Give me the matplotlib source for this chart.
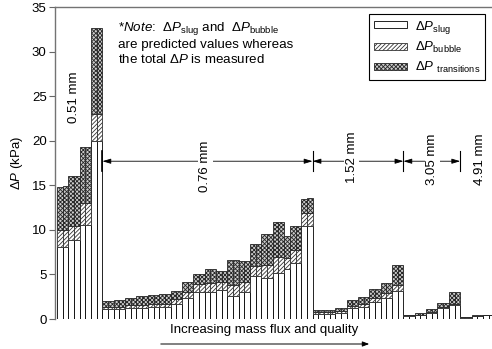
import numpy as np
import matplotlib
matplotlib.use("Agg")
import matplotlib.pyplot as plt
from matplotlib.patches import Patch, FancyArrowPatch

plt.rcParams["font.family"] = ["Liberation Sans", "DejaVu Sans"]
plt.rcParams["mathtext.fontset"] = "custom"
plt.rcParams["mathtext.rm"] = "Liberation Sans"
plt.rcParams["mathtext.it"] = "Liberation Sans:italic"
plt.rcParams["hatch.linewidth"] = 0.6

# Bar values (kPa), one entry per bar, by channel diameter
d051_total = [14.8, 14.9, 16.0, 16.0, 19.3, 19.3, 32.6, 32.7]
d051_slug = [8.1, 8.1, 8.9, 8.9, 10.6, 10.6, 20.0, 20.0]
d051_bubble = [1.9, 1.9, 1.5, 1.5, 2.4, 2.4, 3.0, 3.0]

d076_total = [2.0, 2.0, 2.1, 2.1, 2.4, 2.4, 2.6, 2.6, 2.7, 2.7, 2.8, 2.8, 3.1, 3.1,
              4.1, 4.1, 5.0, 5.0, 5.6, 5.6, 5.4, 5.4, 6.6, 6.6, 6.5, 6.5, 8.4, 8.4,
              9.5, 9.5, 10.9, 10.9, 9.3, 10.4, 10.4, 13.5, 13.6]
d076_slug = [1.1, 1.1, 1.1, 1.1, 1.2, 1.2, 1.2, 1.2, 1.3, 1.3, 1.3, 1.3, 1.7, 1.7,
             2.4, 2.4, 3.0, 3.0, 3.0, 3.0, 3.2, 3.2, 2.6, 2.6, 3.0, 3.0, 4.8, 4.8,
             4.6, 4.6, 5.2, 5.2, 5.6, 6.3, 6.3, 10.4, 10.4]
d076_bubble = [0.3, 0.3, 0.3, 0.3, 0.4, 0.4, 0.4, 0.4, 0.4, 0.4, 0.4, 0.4, 0.5, 0.5,
               0.6, 0.6, 0.9, 0.9, 1.0, 1.0, 0.9, 0.9, 1.2, 1.2, 1.1, 1.1, 1.1, 1.1,
               1.5, 1.5, 1.8, 1.8, 1.2, 1.4, 1.4, 1.5, 1.5]

d152_total = [1.0, 1.0, 1.05, 1.05, 1.2, 1.2, 2.1, 2.1, 2.5, 2.5, 3.4, 3.4, 4.0, 4.0, 6.1, 6.1]
d152_slug = [0.6, 0.6, 0.6, 0.6, 0.7, 0.7, 1.2, 1.2, 1.3, 1.3, 1.9, 1.9, 2.4, 2.4, 3.1, 3.1]
d152_bubble = [0.2, 0.2, 0.2, 0.2, 0.2, 0.2, 0.3, 0.3, 0.4, 0.4, 0.5, 0.5, 0.5, 0.5, 0.7, 0.7]

d305_total = [0.5, 0.5, 0.7, 0.7, 1.1, 1.1, 1.8, 1.8, 3.0, 3.0]
d305_slug = [0.35, 0.35, 0.45, 0.45, 0.7, 0.7, 1.2, 1.2, 1.6, 1.6]
d305_bubble = [0.05, 0.05, 0.05, 0.05, 0.1, 0.1, 0.1, 0.1, 0.1, 0.1]

d491_total = [0.2, 0.2, 0.4, 0.4, 0.5, 0.5]
d491_slug = [0.15, 0.15, 0.3, 0.3, 0.4, 0.4]
d491_bubble = [0.02, 0.02, 0.03, 0.03, 0.04, 0.04]

section_labels = ["0.51 mm", "0.76 mm", "1.52 mm", "3.05 mm", "4.91 mm"]

total = np.array(d051_total + d076_total + d152_total + d305_total + d491_total)
slug = np.array(d051_slug + d076_slug + d152_slug + d305_slug + d491_slug)
bubble = np.array(d051_bubble + d076_bubble + d152_bubble + d305_bubble + d491_bubble)
trans = total - slug - bubble
sizes = [len(d051_total), len(d076_total), len(d152_total), len(d305_total), len(d491_total)]
x = np.arange(len(total))

fig = plt.figure(figsize=(4.92, 3.49), dpi=100)
ax = fig.add_axes([55 / 492, 30 / 349, 437 / 492, 312 / 349])

ax.bar(x, slug, width=1, facecolor="white", edgecolor="black", linewidth=0.6)
ax.bar(x, bubble, width=1, bottom=slug, facecolor="white", edgecolor="0.2",
       hatch="////////", linewidth=0.6)
ax.bar(x, trans, width=1, bottom=slug + bubble, facecolor="0.8", edgecolor="0.15",
       hatch="xxxxxxxx", linewidth=0.6)

ax.set_xlim(-0.85, 76.1)
ax.set_ylim(0, 35)
ax.set_yticks(np.arange(0, 36, 5))
ax.tick_params(axis="y", direction="out", length=4, width=0.8, color="0.4", labelsize=9.5, pad=2)
ax.set_xticks([])
for side in ["right", "bottom"]:
    ax.spines[side].set_visible(False)
for side in ["left", "top"]:
    ax.spines[side].set_color("0.45")
    ax.spines[side].set_linewidth(1.0)
ax.set_ylabel(r"$\Delta P$ (kPa)", fontsize=9.5, labelpad=5)

# Diameter sections: boundary ticks, double arrows and labels
bounds = np.cumsum(sizes)[:-1] - 0.5
arrow_y = 17.7
for b in bounds:
    ax.plot([b, b], [16.6, 18.8], color="black", lw=1.2 if b == bounds[0] else 0.8)
edges = [-0.5] + list(bounds)
for i in range(1, 4):
    ax.annotate("", xy=(edges[i], arrow_y), xytext=(edges[i + 1], arrow_y),
                arrowprops=dict(arrowstyle="<|-|>,head_length=0.5,head_width=0.15",
                                color="black", lw=0.6, shrinkA=0, shrinkB=0))

label_pos = [(2.5, 24.9), (25.6, 17.1), (51.4, 18.1), (65.6, 17.9), (74.0, 17.9)]
for lab, (lx, ly) in zip(section_labels, label_pos):
    ax.text(lx, ly, lab, rotation=90, ha="center", va="center", fontsize=9.5, zorder=5,
            bbox=dict(facecolor="white", edgecolor="none", pad=1.0))

# Note
fig.text(118 / 492, 1 - 20 / 349,
         r"*$\it{Note}$:  $\Delta P_{\mathrm{slug}}$ and  $\Delta P_{\mathrm{bubble}}$"
         "\nare predicted values whereas\nthe total " r"$\Delta P$" " is measured",
         ha="left", va="top", fontsize=9.6, linespacing=1.2)

# Legend
handles = [Patch(facecolor="white", edgecolor="black", linewidth=0.6),
           Patch(facecolor="white", edgecolor="0.2", hatch="////////", linewidth=0.6),
           Patch(facecolor="0.8", edgecolor="0.15", hatch="xxxxxxxx", linewidth=0.6)]
labels = [r"$\Delta P_{\mathrm{slug}}$", r"$\Delta P_{\mathrm{bubble}}$",
          r"$\Delta P\ _{\mathrm{transitions}}$"]
leg = ax.legend(handles, labels, loc="upper right", bbox_to_anchor=(485 / 492, 1 - 14 / 349),
                bbox_transform=fig.transFigure, fontsize=9.5, handlelength=2.5,
                handleheight=0.45, handletextpad=0.6, labelspacing=0.35,
                borderpad=0.35, borderaxespad=0, fancybox=False, framealpha=1)
leg.get_frame().set_edgecolor("black")
leg.get_frame().set_linewidth(0.8)

# x-direction annotation
fig.text(264 / 492, 1 - 330 / 349, "Increasing mass flux and quality",
         ha="center", va="center", fontsize=9.5)
fig.add_artist(FancyArrowPatch(
    (158 / 492, 1 - 344 / 349), (372 / 492, 1 - 344 / 349),
    transform=fig.transFigure, arrowstyle="-|>,head_length=4,head_width=1.5",
    color="black", lw=0.7))

fig.savefig("out.png", dpi=100)
